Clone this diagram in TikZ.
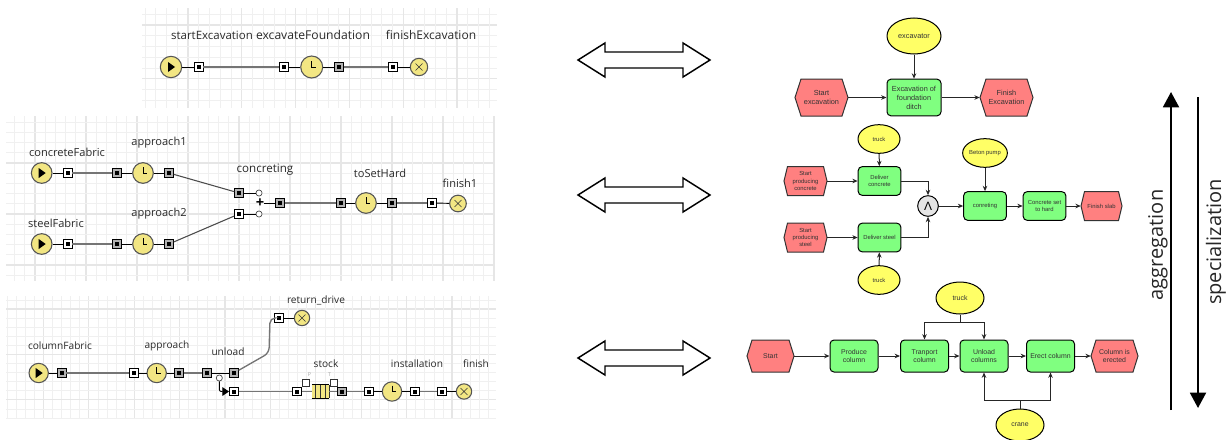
\documentclass[tikz,border=0pt]{standalone}
\usepackage{fontspec}
\setmainfont{Open Sans}
\newfontfamily\arialf{Liberation Sans}
\usetikzlibrary{arrows.meta,shapes.geometric,calc}
\definecolor{gmin}{HTML}{F0F0F0}
\definecolor{gmaj}{HTML}{E6E6E6}
\definecolor{sfill}{HTML}{F2E683}
\definecolor{sline}{HTML}{555555}
\definecolor{conn}{HTML}{757575}
\definecolor{lbl}{HTML}{2A2A2A}
\definecolor{evt}{HTML}{FF8080}
\definecolor{fnc}{HTML}{80FF80}
\definecolor{org}{HTML}{FFFF66}
\tikzset{
  x=0.75pt,y=-0.75pt,
  lab/.style={font=\fontsize{8.3}{10}\selectfont,text=lbl,inner sep=0pt},
  labw/.style={font=\fontsize{9}{10}\selectfont,text=lbl,inner sep=0pt},
  labs/.style={font=\fontsize{7.6}{10}\selectfont,text=lbl,inner sep=0pt},
  portw/.style={rectangle,draw=black,fill=white,line width=0.7pt,minimum size=6.4pt,inner sep=0pt,
    path picture={\fill[black] ([shift={(-2,-2)}]path picture bounding box.center) rectangle ([shift={(2,2)}]path picture bounding box.center);}},
  portg/.style={portw,fill=gray!60},
  srcnode/.style={circle,draw=sline,fill=sfill,line width=0.8pt,minimum size=#1,inner sep=0pt,
    path picture={\fill[black] ([shift={(-3,-5)}]path picture bounding box.center) -- ([shift={(4,0)}]path picture bounding box.center) -- ([shift={(-3,5)}]path picture bounding box.center) -- cycle;}},
  clocknode/.style={circle,draw=sline,fill=sfill,line width=0.8pt,minimum size=#1,inner sep=0pt,
    path picture={\draw[black,line width=0.6pt] ([shift={(0,-6)}]path picture bounding box.center) -- (path picture bounding box.center) -- ([shift={(4,0)}]path picture bounding box.center);}},
  sinknode/.style={circle,draw=sline,fill=sfill,line width=0.8pt,minimum size=#1,inner sep=0pt,
    path picture={\draw[black!80,line width=0.5pt] ([shift={(-3.5,-3.5)}]path picture bounding box.center) -- ([shift={(3.5,3.5)}]path picture bounding box.center) ([shift={(3.5,-3.5)}]path picture bounding box.center) -- ([shift={(-3.5,3.5)}]path picture bounding box.center);}},
  dotnode/.style={circle,draw=black!75,fill=white,line width=0.5pt,minimum size=4.6pt,inner sep=0pt},
  stub/.style={draw=black,line width=0.7pt},
  thick conn/.style={draw=conn,line width=1.1pt},
  diag/.style={draw=black!70,line width=0.8pt},
  fn/.style={rectangle,rounded corners=3pt,draw=black,fill=fnc,line width=0.75pt,align=center,inner sep=0pt,text=black!80},
  og/.style={ellipse,draw=black,fill=org,line width=0.75pt,align=center,inner sep=0pt,text=black!80},
  ev/.style={rectangle,align=center,inner sep=0pt,text=black!80},
  hexline/.style={draw=black!80,fill=evt,line width=0.75pt},
  arr/.style={draw=black!85,line width=0.75pt,-{Stealth[length=4pt,width=3.4pt]}},
  plainl/.style={draw=black!85,line width=0.75pt},
  big/.style={draw=black,line width=1.4pt,-{Triangle[length=11.5pt,width=12pt]}},
  blockarr/.style={draw=black,fill=white,line width=1.1pt,miter limit=6},
  sideL/.style={font=\fontsize{15}{18}\selectfont,text=black!85,inner sep=0pt,rotate=90},
  fa/.style={font=\arialf\fontsize{5.5}{6.7}\selectfont},
  fb/.style={font=\arialf\fontsize{4.4}{5.6}\selectfont},
  fc/.style={font=\arialf\fontsize{5.2}{6.1}\selectfont},
}
% name, cx, cy, width, height, inset, style, text
\newcommand{\hexn}[8]{%
  \draw[hexline] ({#2-#4/2},#3) -- ({#2-#4/2+#6},{#3-#5/2}) -- ({#2+#4/2-#6},{#3-#5/2}) -- ({#2+#4/2},#3) -- ({#2+#4/2-#6},{#3+#5/2}) -- ({#2-#4/2+#6},{#3+#5/2}) -- cycle;
  \node[ev,#7,minimum width=#4*0.75pt,minimum height=#5*0.75pt] (#1) at (#2,#3) {#8};}
% centre y
\newcommand{\dblarrow}[1]{%
  \draw[blockarr] (578,#1) -- (605,{#1-17}) -- (605,{#1-8}) -- (683,{#1-8}) -- (683,{#1-17}) -- (710,#1) -- (683,{#1+17}) -- (683,{#1+8}) -- (605,{#1+8}) -- (605,{#1+17}) -- cycle;}
% x0 x1 y0 y1 xref yref step
\newcommand{\gridp}[7]{%
  \begin{scope}
  \clip (#1,#3) rectangle (#2,#4);
  \foreach \k in {-60,...,60} {
    \pgfmathsetmacro{\xx}{#5+\k*#7}
    \pgfmathsetmacro{\yy}{#6+\k*#7}
    \pgfmathtruncatemacro{\mm}{mod(abs(\k),5)}
    \ifnum\mm=0
      \draw[gmaj,line width=0.8pt] (\xx,#3) -- (\xx,#4);
      \draw[gmaj,line width=0.8pt] (#1,\yy) -- (#2,\yy);
    \else
      \draw[gmin,line width=0.5pt] (\xx,#3) -- (\xx,#4);
      \draw[gmin,line width=0.5pt] (#1,\yy) -- (#2,\yy);
    \fi
  }
  \end{scope}}
\begin{document}
\begin{tikzpicture}
\useasboundingbox (0,0) rectangle (1231,439);
\clip (0,0) rectangle (1231,439);
\fill[white] (0,0) rectangle (1231,439);
\gridp{142}{497}{8}{108}{188}{25}{10.76}
\gridp{6}{495}{116}{281}{239}{163}{10.2}
\gridp{6}{496}{296}{418}{225}{309}{9.08}

% ---------- panel 1
\node[srcnode=16pt] (a1) at (171,67) {};
\node[portw] (a2) at (198.7,67) {};
\node[portw] (a3) at (284,67) {};
\node[clocknode=16.5pt] (a4) at (311.7,67) {};
\node[portg] (a5) at (339,67) {};
\node[portw] (a6) at (393,67) {};
\node[sinknode=13pt] (a7) at (419,67) {};
\draw[stub] (a1) -- (a2);
\draw[thick conn] (a2) -- (a3);
\draw[stub] (a3) -- (a4);
\draw[stub] (a4) -- (a5);
\draw[thick conn] (a5) -- (a6);
\draw[stub] (a6) -- (a7);
\node[lab,font=\fontsize{8.6}{10}\selectfont] (la1) at (212,35) {startExcavation};
\node[labw,font=\fontsize{9.1}{10}\selectfont] (la2) at (313,35) {excavateFoundation};
\node[labw] (la3) at (431,35) {finishExcavation};

% ---------- panel 2
\node[srcnode=15.5pt] (b1) at (41.7,173) {};
\node[portw] (b2) at (67.7,173) {};
\node[portg] (b3) at (117,173) {};
\node[clocknode=15.5pt] (b4) at (143,173) {};
\node[portg] (b5) at (169,173) {};
\node[srcnode=15.5pt] (c1) at (41.7,244) {};
\node[portw] (c2) at (67.7,244) {};
\node[portg] (c3) at (117,244) {};
\node[clocknode=15.5pt] (c4) at (143,244) {};
\node[portg] (c5) at (169,244) {};
\node[portg] (j1) at (239,193) {};
\node[portw] (j2) at (239,214) {};
\node[dotnode] (d1) at (259,193) {};
\node[dotnode] (d2) at (259,214) {};
\node[inner sep=0pt,font=\bfseries\fontsize{11}{11}\selectfont] (plus) at (260,203) {+};
\node[portg] (e1) at (280,203) {};
\node[portg] (e2) at (341,203) {};
\node[clocknode=15.5pt] (e3) at (366,203) {};
\node[portg] (e4) at (392,203) {};
\node[portw] (e5) at (432,203) {};
\node[sinknode=12.5pt] (e6) at (458,203.5) {};
\draw[stub] (b1) -- (b2);
\draw[thick conn] (b2) -- (b3);
\draw[stub] (b3) -- (b4);
\draw[stub] (b4) -- (b5);
\draw[stub] (c1) -- (c2);
\draw[thick conn] (c2) -- (c3);
\draw[stub] (c3) -- (c4);
\draw[stub] (c4) -- (c5);
\draw[diag] (b5) -- (j1);
\draw[diag] (c5) -- (j2);
\draw[stub] (j1) -- (d1);
\draw[stub] (j2) -- (d2);
\draw[stub] (plus) -- (e1);
\draw[thick conn] (e1) -- (e2);
\draw[stub] (e2) -- (e3);
\draw[stub] (e3) -- (e4);
\draw[thick conn] (e4) -- (e5);
\draw[stub] (e5) -- (e6);
\node[lab] (lb1) at (67,152) {concreteFabric};
\node[lab] (lb2) at (159,143) {approach1};
\node[lab] (lb3) at (56,223) {steelFabric};
\node[lab] (lb4) at (159,214) {approach2};
\node[lab,font=\fontsize{8.7}{10}\selectfont] (lb5) at (265,170) {concreting};
\node[lab] (lb6) at (380,173) {toSetHard};
\node[lab] (lb7) at (460,183) {finish1};

% ---------- panel 3
\node[srcnode=14.5pt] (f1) at (38.7,373) {};
\node[portg] (f2) at (61.7,373) {};
\node[portw] (f3) at (134,373) {};
\node[clocknode=14.5pt] (f4) at (156.7,373) {};
\node[portg] (f5) at (179,373) {};
\node[portg] (f6) at (207,373) {};
\node[portg] (f7) at (234,373) {};
\node[dotnode] (f8) at (219.3,378) {};
\node[portw] (g1) at (234,391.5) {};
\node[portw] (r1) at (279,318) {};
\node[sinknode=11.5pt] (r2) at (302,318) {};
\node[portw] (g2) at (297,391.5) {};
\node[rectangle,fill=sfill,minimum width=12.6pt,minimum height=9.6pt,inner sep=0pt] (q) at (320.5,391.5) {};
\draw[black,line width=0.7pt] (q.north west) -- (q.north east) (q.south west) -- (q.south east);
\foreach \bx in {315.5,320.5,325.5,329} \draw[black!80,line width=0.6pt] (\bx,385.2) -- (\bx,397.8);
\node[rectangle,draw=black!80,fill=white,line width=0.5pt,minimum size=5.4pt,inner sep=0pt] (qp) at (306,382.5) {};
\node[rectangle,draw=black!80,fill=white,line width=0.5pt,minimum size=5.4pt,inner sep=0pt] (qt) at (333.5,382.5) {};
\node[font=\fontsize{4}{4}\selectfont,text=gray!70,inner sep=0pt] (lp) at (309.5,375) {P};
\node[font=\fontsize{4}{4}\selectfont,text=gray!70,inner sep=0pt] (lt) at (329.7,375) {T};
\node[portg] (g3) at (342,391.5) {};
\node[portw] (g4) at (369,391.5) {};
\node[clocknode=14.5pt] (g5) at (392,391.5) {};
\node[portw] (g6) at (415,391.5) {};
\node[portw] (g7) at (442,391.5) {};
\node[sinknode=11.5pt] (g8) at (464,391.5) {};
\draw[stub] (f1) -- (f2);
\draw[thick conn] (f2) -- (f3);
\draw[stub] (f3) -- (f4);
\draw[stub] (f4) -- (f5);
\draw[thick conn] (f5) -- (f6);
\draw[stub] (f6) -- (f7);
\draw[draw=conn,line width=1pt,rounded corners=4pt] (f7) -- (269,353) -- (270,318) -- (r1);
\draw[stub] (r1) -- (r2);
\draw[stub,-{Triangle[length=5pt,width=6.5pt]},shorten >=0.2pt,rounded corners=1.5pt] (f8) |- (g1);
\draw[thick conn] (g1) -- (g2);
\draw[thick conn] (g2) -- (q);
\draw[thick conn] (q) -- (g3);
\draw[thick conn] (g3) -- (g4);
\draw[stub] (g4) -- (g5);
\draw[stub] (g5) -- (g6);
\draw[thick conn] (g6) -- (g7);
\draw[stub] (g7) -- (g8);
\node[labs] (lc1) at (60,346) {columnFabric};
\node[labs] (lc2) at (167,346) {approach};
\node[labs] (lc3) at (228,352) {unload};
\node[labs] (lc4) at (316,300) {return\_drive};
\node[labs] (lc5) at (326,364) {stock};
\node[labs] (lc6) at (417,364) {installation};
\node[labs] (lc7) at (476,364) {finish};

% ---------- block arrows
\dblarrow{60}
\dblarrow{195}
\dblarrow{358}

% ---------- right 1
\node[og,fa,minimum width=40.5pt,minimum height=27pt] (x1) at (914,36) {excavator};
\node[fn,fa,minimum width=40.5pt,minimum height=27.5pt] (x2) at (914,97.5) {Excavation of\\foundation\\ditch};
\hexn{x3}{821.5}{97.5}{53}{37}{6}{fa}{Start\\excavation}
\hexn{x4}{1006.5}{97.5}{53}{37}{6}{fa}{Finish\\Excavation}
\draw[arr] (x1) -- (x2);
\draw[arr] (x3) -- (x2);
\draw[arr] (x2) -- (x4);

% ---------- right 2
\node[og,fb,minimum width=31.5pt,minimum height=21.5pt] (y1) at (879,139) {truck};
\node[fn,fb,minimum width=32pt,minimum height=21.5pt] (y2) at (879.5,181) {Deliver\\concrete};
\hexn{y3}{805.5}{181}{43}{29}{3.5}{fb}{Start\\producing\\concrete}
\node[fn,fb,minimum width=32pt,minimum height=21.5pt] (y4) at (879.5,237.5) {Deliver steel};
\hexn{y5}{805.5}{237.5}{43}{29}{3.5}{fb}{Start\\producing\\steel}
\node[og,fb,minimum width=31.5pt,minimum height=21.5pt] (y6) at (879,280) {truck};
\node[circle,draw=black,fill=black!10,line width=0.75pt,minimum size=15.5pt,inner sep=0pt,font=\arialf\fontsize{9}{9}\selectfont] (y7) at (928,206) {Λ};
\node[fn,fb,minimum width=32pt,minimum height=21.5pt] (y8) at (985,206) {conreting};
\node[og,fb,minimum width=31.5pt,minimum height=21.5pt] (y9) at (985,153) {Beton pump};
\node[fn,fb,minimum width=32pt,minimum height=21.5pt] (y10) at (1044.5,206) {Concrete set\\to hard};
\hexn{y11}{1101.5}{206}{41}{29}{3.5}{fb}{Finish slab}
\draw[arr] (y1) -- (y2);
\draw[arr] (y3) -- (y2);
\draw[arr] (y5) -- (y4);
\draw[arr] (y6) -- (y4);
\draw[arr] (y2.east) -| (y7.north);
\draw[arr] (y4.east) -| (y7.south);
\draw[arr] (y7) -- (y8);
\draw[arr] (y9) -- (y8);
\draw[arr] (y8) -- (y10);
\draw[arr] (y10) -- (y11);

% ---------- right 3
\hexn{z1}{770.5}{356}{47}{32}{5}{fc}{Start}
\node[fn,fc,minimum width=36pt,minimum height=24pt] (z2) at (854,356) {Produce\\column};
\node[fn,fc,minimum width=36pt,minimum height=24pt] (z3) at (924.5,356) {Tranport\\column};
\node[fn,fc,minimum width=36pt,minimum height=24pt] (z4) at (984,356) {Unload\\columns};
\node[fn,fc,minimum width=36pt,minimum height=24pt] (z5) at (1050.5,356) {Erect column};
\hexn{z6}{1114.5}{356}{47}{32}{5}{fc}{Column is\\erected}
\node[og,fc,minimum width=36pt,minimum height=24pt] (z7) at (960,298) {truck};
\node[og,fc,minimum width=36pt,minimum height=24pt] (z8) at (1020,425) {crane};
\coordinate (jt) at (960,322);
\coordinate (jc) at (1020,400);
\draw[arr] (z1) -- (z2);
\draw[arr] (z2) -- (z3);
\draw[arr] (z3) -- (z4);
\draw[arr] (z4) -- (z5);
\draw[arr] (z5) -- (z6);
\draw[plainl] (z7) -- (jt);
\draw[arr] (jt) -| (z3.north);
\draw[arr] (jt) -| (z4.north);
\draw[plainl] (z8) -- (jc);
\draw[arr] (jc) -| (z4.south);
\draw[arr] (jc) -| (z5.south);

% ---------- side arrows
\coordinate (ag0) at (1171,410);
\coordinate (ag1) at (1171,92);
\coordinate (sp0) at (1198,97);
\coordinate (sp1) at (1198,408);
\draw[big] (ag0) -- (ag1);
\draw[big] (sp0) -- (sp1);
\node[sideL] (tag) at (1158,245) {aggregation};
\node[sideL] (tsp) at (1216,242) {specialization};
\end{tikzpicture}
\end{document}
